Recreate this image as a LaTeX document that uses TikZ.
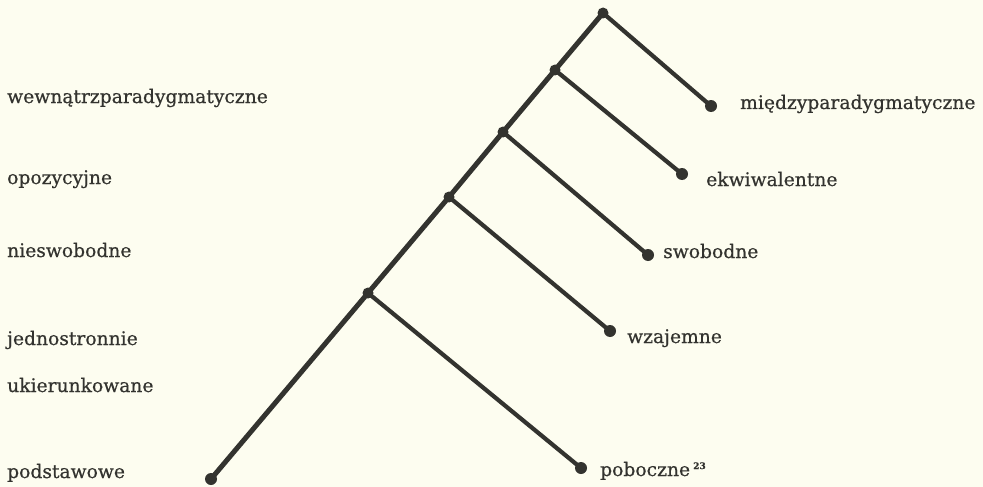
\documentclass[tikz,border=0pt]{standalone}
\usepackage{fontspec}
\setmainfont[FakeBold=0.5]{DejaVu Serif}
\definecolor{paper}{HTML}{FDFDF0}
\definecolor{ink}{HTML}{33332F}
\begin{document}
\begin{tikzpicture}[x=1pt,y=-1pt,
  dot/.style={circle,fill=ink,inner sep=0pt,minimum size=12pt},
  jdot/.style={circle,fill=ink,inner sep=0pt,minimum size=11pt},
  stem/.style={draw=ink,line width=5pt},
  branch/.style={draw=ink,line width=4.2pt},
  lbl/.style={anchor=base west,inner sep=0pt,text=ink,font=\fontsize{18.7}{20}\selectfont}]
\fill[paper] (0,0) rectangle (983,487);
\useasboundingbox (0,0) rectangle (983,487);

% stem junctions, bottom to top
\node[dot]  (root) at (211,479) {};
\node[jdot] (j1)   at (368,293) {};
\node[jdot] (j2)   at (449,197) {};
\node[jdot] (j3)   at (503,132) {};
\node[jdot] (j4)   at (555,70)  {};
\node[jdot] (top)  at (603,13)  {};

% branch ends
\node[dot] (e0) at (711,106) {};
\node[dot] (e1) at (682,174) {};
\node[dot] (e2) at (648,255) {};
\node[dot] (e3) at (610,331) {};
\node[dot] (e4) at (581,468) {};

\draw[stem] (root.center) -- (j1.center) -- (j2.center) -- (j3.center) -- (j4.center) -- (top.center);
\draw[branch] (top.center) -- (e0.center);
\draw[branch] (j4.center) -- (e1.center);
\draw[branch] (j3.center) -- (e2.center);
\draw[branch] (j2.center) -- (e3.center);
\draw[branch] (j1.center) -- (e4.center);

% left column
\node[lbl] (l0) at (7,103) {wewnątrzparadygmatyczne};
\node[lbl] (l1) at (7,184) {opozycyjne};
\node[lbl] (l2) at (7,257) {nieswobodne};
\node[lbl] (l3) at (7,345) {jednostronnie};
\node[lbl] (l4) at (7,392) {ukierunkowane};
\node[lbl] (l5) at (7,478) {podstawowe};

% right column
\node[lbl] (r0) at (740,109) {międzyparadygmatyczne};
\node[lbl] (r1) at (706,186) {ekwiwalentne};
\node[lbl] (r2) at (663,258) {swobodne};
\node[lbl] (r3) at (627,343) {wzajemne};
\node[lbl] (r4) at (600,476) {poboczne\,\raisebox{7pt}{\fontsize{9}{9}\selectfont\bfseries 23}};
\end{tikzpicture}
\end{document}
